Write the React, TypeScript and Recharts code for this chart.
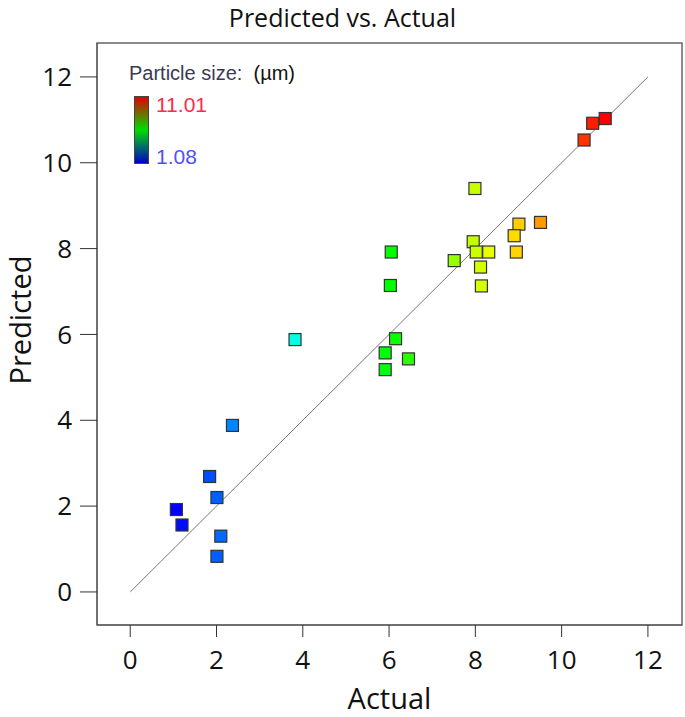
import React from 'react';
import {
  ScatterChart, Scatter, XAxis, YAxis, ReferenceLine, ReferenceArea, Label,
} from 'recharts';

// Actual vs predicted particle size (µm)
const actual = [
  2.37, 1.84, 2.01, 1.07, 1.2, 2.1, 2.01,
  3.82,
  6.05, 6.03, 6.15, 5.91, 6.45, 5.91,
  7.99, 9.51, 9.01, 8.9, 7.95, 8.95, 8.02, 8.31, 7.51, 8.12, 8.14,
  11.01, 10.72, 10.52,
];
const predicted = [
  3.88, 2.69, 2.2, 1.92, 1.56, 1.3, 0.83,
  5.88,
  7.92, 7.14, 5.9, 5.57, 5.43, 5.18,
  9.4, 8.61, 8.57, 8.3, 8.16, 7.92, 7.92, 7.92, 7.72, 7.57, 7.13,
  11.03, 10.92, 10.53,
];
const ticks = [0, 2, 4, 6, 8, 10, 12];
const sizeMin = 1.08;
const sizeMax = 11.01;

const data = actual.map((a, i) => ({ actual: a, predicted: predicted[i] }));

const FONT = '"Open Sans", sans-serif';

// blue -> cyan -> green -> yellow -> red
const STOPS = [
  [0, 0, 255], [0, 255, 255], [0, 255, 0], [255, 255, 0], [255, 0, 0],
];
function sizeColor(v: number) {
  const t = Math.max(0, Math.min(1, (v - sizeMin) / (sizeMax - sizeMin))) * 4;
  const i = Math.min(3, Math.floor(t));
  const f = t - i;
  const c = STOPS[i].map((s, k) => Math.round(s + (STOPS[i + 1][k] - s) * f));
  return `rgb(${c[0]},${c[1]},${c[2]})`;
}

const Square = (props: any) => {
  const { cx, cy, payload } = props;
  return (
    <rect x={cx - 6} y={cy - 6} width={12} height={12}
      fill={sizeColor(payload.actual)} stroke="#333" strokeWidth={1.2} />
  );
};

const tickStyle = { fill: '#111', fontSize: 26, fontFamily: FONT };

const YTitle = (props: any) => {
  const { viewBox } = props;
  const cx = 19;
  const cy = viewBox.y + viewBox.height / 2 - 14;
  return (
    <text x={cx} y={cy} transform={`rotate(-90 ${cx} ${cy})`} textAnchor="middle"
      dominantBaseline="central" fontSize={29} fontFamily={FONT} fill="#111">
      Predicted
    </text>
  );
};

export default function App() {
  return (
    <div style={{ position: 'absolute', left: 0, top: 0, width: 685, height: 717, background: '#fff' }}>
      <div style={{
        position: 'absolute', left: 0, top: 0, width: 685, textAlign: 'center',
        fontFamily: FONT, fontSize: 25, lineHeight: '34px', color: '#111',
      }}>
        Predicted vs. Actual
      </div>
      <ScatterChart width={685} height={717} margin={{ top: 43, right: 3, bottom: 0, left: 0 }}>
        <XAxis
          type="number" dataKey="actual" domain={[-0.77, 12.79]} ticks={ticks}
          allowDataOverflow tickSize={12} tickMargin={14} height={92}
          stroke="#555" tick={tickStyle} tickLine={{ stroke: '#333' }}
        >
          <Label value="Actual" position="insideBottom" offset={8}
            style={{ fontSize: 29, fontFamily: FONT, fill: '#111' }} />
        </XAxis>
        <YAxis
          type="number" dataKey="predicted" domain={[-0.77, 12.79]} ticks={ticks}
          allowDataOverflow tickSize={17} tickMargin={8} width={97}
          stroke="#555" tick={tickStyle} tickLine={{ stroke: '#333' }}
        >
          <Label content={YTitle} />
        </YAxis>
        <ReferenceArea x1={-0.77} x2={12.79} y1={-0.77} y2={12.79}
          fill="none" stroke="#666" strokeWidth={1.5} />
        <ReferenceLine segment={[{ x: 0, y: 0 }, { x: 12, y: 12 }]} stroke="#777" strokeWidth={1} />
        <Scatter data={data} shape={Square} isAnimationActive={false} />
      </ScatterChart>
      <div style={{
        position: 'absolute', left: 129, top: 62, fontFamily: '"Liberation Sans", Arial, sans-serif',
        fontSize: 20, whiteSpace: 'nowrap', color: '#111',
      }}>
        <span style={{ color: '#3a3a55' }}>Particle size:</span>&nbsp; (µm)
      </div>
      <div style={{
        position: 'absolute', left: 134, top: 96, width: 13, height: 66,
        border: '1px solid #444',
        background: 'linear-gradient(to bottom, #e00000, #00dd00, #0000cc)',
      }} />
      <div style={{
        position: 'absolute', left: 156, top: 93, fontFamily: '"Liberation Sans", Arial, sans-serif',
        fontSize: 21, color: '#ff2a4a', lineHeight: '24px',
      }}>11.01</div>
      <div style={{
        position: 'absolute', left: 156, top: 145, fontFamily: '"Liberation Sans", Arial, sans-serif',
        fontSize: 21, color: '#5050ff', lineHeight: '24px',
      }}>1.08</div>
    </div>
  );
}
